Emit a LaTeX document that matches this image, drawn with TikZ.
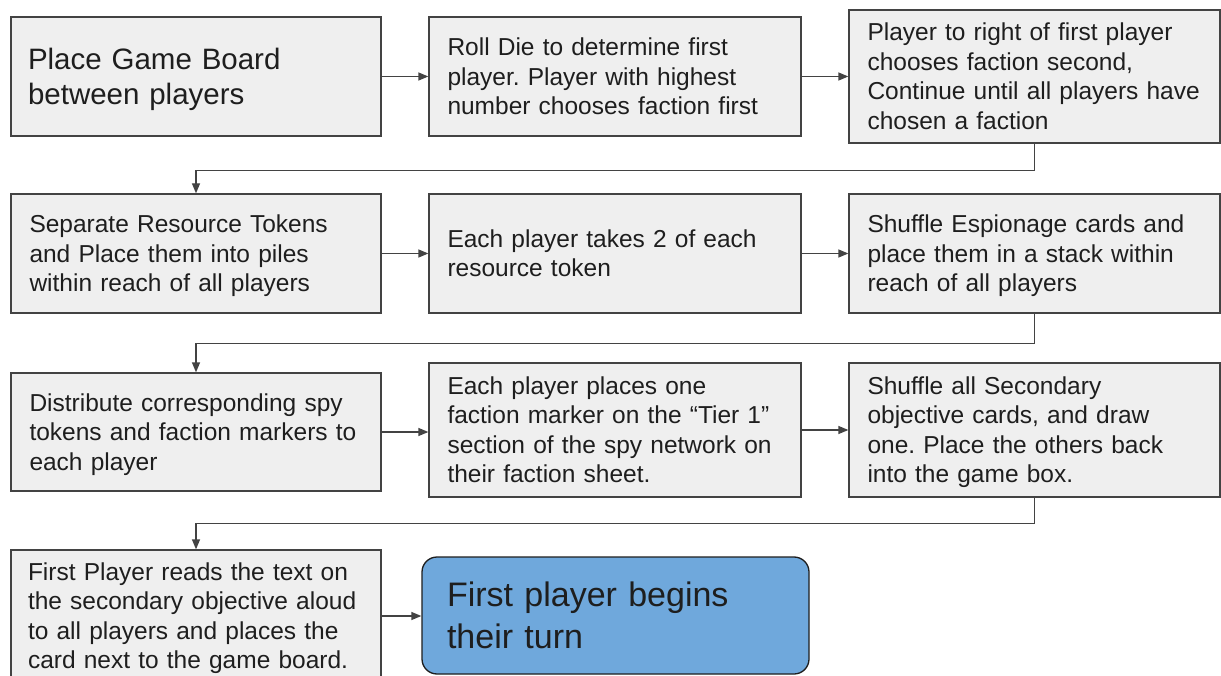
\documentclass[tikz,border=0pt]{standalone}
\usepackage{fontspec}
\setmainfont{Liberation Sans}
\usetikzlibrary{arrows.meta}
\definecolor{boxfill}{HTML}{EFEFEF}
\definecolor{boxline}{HTML}{434343}
\definecolor{ink}{HTML}{1E1E1E}
\definecolor{startfill}{HTML}{6FA8DC}
\frenchspacing
\newcommand{\topstrut}{\rule{0pt}{0.79\baselineskip}}
\newcommand{\botstrut}{\rule[-0.21\baselineskip]{0pt}{0.21\baselineskip}}
\tikzset{
  stepbox/.style={rectangle, draw=boxline, fill=boxfill, line width=1.3pt,
    inner xsep=18.5pt, inner ysep=0pt, align=left, text=ink,
    font=\fontsize{24.5}{29.5}\selectfont,
    execute at begin node=\topstrut, execute at end node=\botstrut},
  bigbox/.style={stepbox, inner xsep=17pt, font=\fontsize{29.5}{35}\selectfont},
  startbox/.style={stepbox, fill=startfill, draw=ink, rounded corners=15pt,
    inner xsep=25pt, font=\fontsize{34}{42}\selectfont},
  conn/.style={draw=boxline, line width=1.3pt,
    -{Triangle[length=10pt,width=8pt]}},
}
\begin{document}
\begin{tikzpicture}[x=1pt, y=-1pt]
\useasboundingbox (0,0) rectangle (1221,676);
\clip (0,0) rectangle (1221,676);
\fill[white] (0,0) rectangle (1221,676);

% row 1
\node[bigbox, minimum width=370pt, minimum height=119pt, text width=336pt]
  (board) at (196,76.5) {\mbox{Place Game Board}\\\mbox{between players}};
\node[stepbox, minimum width=372pt, minimum height=119pt, text width=335pt]
  (roll) at (615,76.5) {\mbox{Roll Die to determine first}\\\mbox{player. Player with highest}\\\mbox{number chooses faction first}};
\node[stepbox, minimum width=371pt, minimum height=133pt, text width=334pt]
  (choose) at (1034.5,76.5) {\mbox{Player to right of first player}\\\mbox{chooses faction second,}\\\mbox{Continue until all players have}\\\mbox{chosen a faction}};

% row 2
\node[stepbox, minimum width=370pt, minimum height=119pt, text width=333pt]
  (tokens) at (196,253.5) {\mbox{Separate Resource Tokens}\\\mbox{and Place them into piles}\\\mbox{within reach of all players}};
\node[stepbox, minimum width=372pt, minimum height=119pt, text width=335pt]
  (take) at (615,253.5) {\mbox{Each player takes 2 of each}\\\mbox{resource token}};
\node[stepbox, minimum width=371pt, minimum height=119pt, text width=334pt]
  (espionage) at (1034.5,253.5) {\mbox{Shuffle Espionage cards and}\\\mbox{place them in a stack within}\\\mbox{reach of all players}};

% row 3
\node[stepbox, minimum width=370pt, minimum height=118pt, text width=333pt]
  (distribute) at (196,432) {\mbox{Distribute corresponding spy}\\\mbox{tokens and faction markers to}\\\mbox{each player}};
\node[stepbox, minimum width=372pt, minimum height=134pt, text width=335pt]
  (marker) at (615,430) {\mbox{Each player places one}\\\mbox{faction marker on the “Tier 1”}\\\mbox{section of the spy network on}\\\mbox{their faction sheet.}};
\node[stepbox, minimum width=371pt, minimum height=134pt, text width=334pt]
  (secondary) at (1034.5,430) {\mbox{Shuffle all Secondary}\\\mbox{objective cards, and draw}\\\mbox{one. Place the others back}\\\mbox{into the game box.}};

% row 4 (the last box runs past the lower edge)
\node[stepbox, minimum width=370pt, minimum height=132pt, text width=336pt, inner xsep=17pt]
  (read) at (196,616) {\mbox{First Player reads the text on}\\\mbox{the secondary objective aloud}\\\mbox{to all players and places the}\\\mbox{card next to the game board.}};
\node[startbox, minimum width=387pt, minimum height=117pt, text width=337pt]
  (begin) at (615.5,615.5) {\mbox{First player begins}\\\mbox{their turn}};

% connectors
\draw[conn] (board) -- (roll);
\draw[conn] (roll) -- (choose);
\draw[conn] (choose.south) -- ++(0,27) -| (tokens.north);
\draw[conn] (tokens) -- (take);
\draw[conn] (take) -- (espionage);
\draw[conn] (espionage.south) -- ++(0,30) -| (distribute.north);
\draw[conn] (distribute.east) -- (distribute.east -| marker.west);
\draw[conn] (marker) -- (secondary);
\draw[conn] (secondary.south) -- ++(0,26) -| (read.north);
\draw[conn] (read.east) -- (read.east -| begin.west);
\end{tikzpicture}
\end{document}
